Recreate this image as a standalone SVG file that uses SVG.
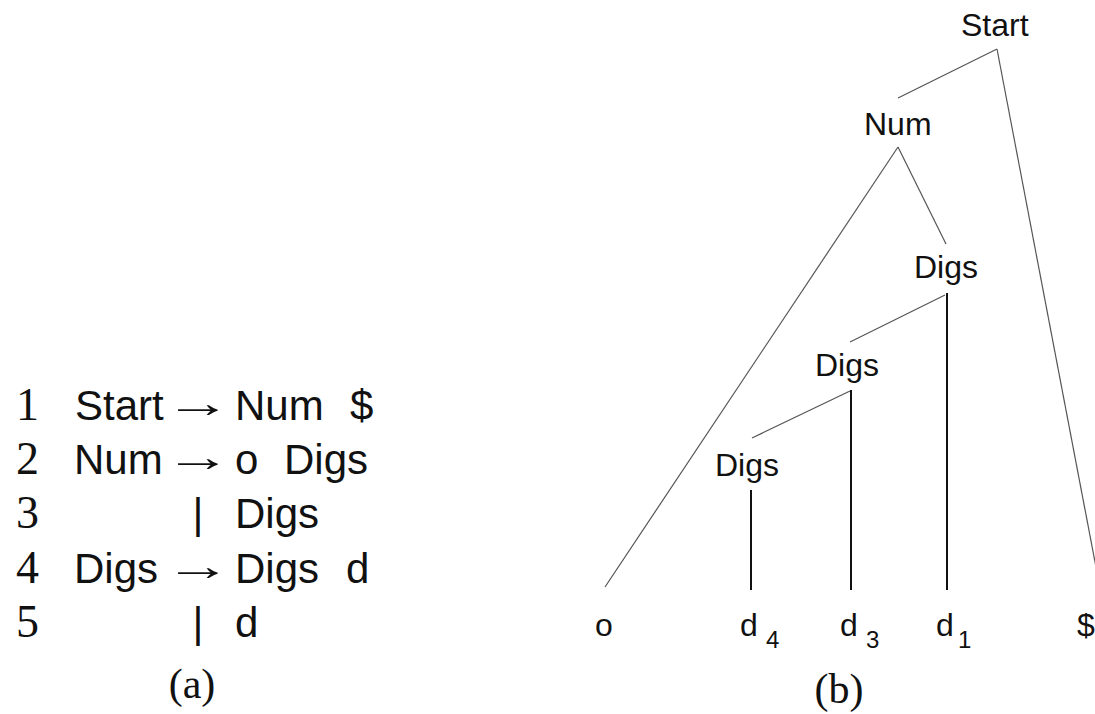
<svg xmlns="http://www.w3.org/2000/svg" width="1095" height="714" viewBox="0 0 1095 714">
<style>
.g{font-family:"Liberation Sans",Arial,sans-serif;font-size:42px;fill:#111}
.a{font-family:"Liberation Sans",Arial,sans-serif;font-size:42px;fill:#111}
.n{font-family:"Liberation Serif","Times New Roman",serif;font-size:46px;fill:#111}
.cap{font-family:"Liberation Serif","Times New Roman",serif;font-size:42px;fill:#111;text-anchor:middle}
.t{font-family:"Liberation Sans",Arial,sans-serif;font-size:32px;fill:#111}
.s{font-family:"Liberation Sans",Arial,sans-serif;font-size:24px;fill:#111}
.d{stroke:#555;stroke-width:1.2;fill:none}
.v{stroke:#111;stroke-width:2;fill:none}
</style>
<rect width="1095" height="714" fill="#fff"/>
<g id="grammar">
<text class="n" x="16" y="420">1</text>
<text class="g" x="75" y="420">Start</text>
<text class="a" transform="translate(164,417) scale(1.6,1)">→</text>
<text class="g" x="235" y="420">Num</text>
<text class="g" x="350" y="420">$</text>
<text class="n" x="16" y="474">2</text>
<text class="g" x="74" y="474">Num</text>
<text class="a" transform="translate(164,471) scale(1.6,1)">→</text>
<text class="g" x="235" y="474">o</text>
<text class="g" x="284" y="474">Digs</text>
<text class="n" x="16" y="528">3</text>
<text class="g" x="198" y="528" text-anchor="middle">|</text>
<text class="g" x="235" y="528">Digs</text>
<text class="n" x="16" y="583">4</text>
<text class="g" x="74" y="583">Digs</text>
<text class="a" transform="translate(164,580) scale(1.6,1)">→</text>
<text class="g" x="235" y="583">Digs</text>
<text class="g" x="346" y="583">d</text>
<text class="n" x="16" y="637">5</text>
<text class="g" x="198" y="637" text-anchor="middle">|</text>
<text class="g" x="235" y="637">d</text>
<text class="cap" x="192" y="698">(a)</text>
</g>
<g id="connectors">
<line class="d" x1="997" y1="49" x2="898" y2="98"/>
<line class="d" x1="997" y1="49" x2="1100" y2="588"/>
<line class="d" x1="898" y1="147" x2="605" y2="587"/>
<line class="d" x1="898" y1="147" x2="946" y2="244"/>
<line class="d" x1="945" y1="295" x2="850" y2="342"/>
<line class="d" x1="850" y1="391" x2="752" y2="438"/>
<line class="v" x1="947" y1="293" x2="947" y2="590"/>
<line class="v" x1="851" y1="390" x2="851" y2="590"/>
<line class="v" x1="751" y1="490" x2="751" y2="590"/>
</g>
<g id="node-start"><text class="t" x="961" y="36">Start</text></g>
<g id="node-num"><text class="t" x="864" y="135">Num</text></g>
<g id="node-digs1"><text class="t" x="914" y="278">Digs</text></g>
<g id="node-digs2"><text class="t" x="815" y="376">Digs</text></g>
<g id="node-digs3"><text class="t" x="715" y="476">Digs</text></g>
<g id="leaf-o"><text class="t" x="595" y="636">o</text></g>
<g id="leaf-d4"><text class="t" x="740" y="636">d</text><text class="s" x="766" y="648">4</text></g>
<g id="leaf-d3"><text class="t" x="840" y="636">d</text><text class="s" x="866" y="648">3</text></g>
<g id="leaf-d1"><text class="t" x="936" y="636">d</text><text class="s" x="958" y="648">1</text></g>
<g id="leaf-dollar"><text class="t" x="1077" y="636">$</text></g>
<text class="cap" x="839" y="703">(b)</text>
</svg>
